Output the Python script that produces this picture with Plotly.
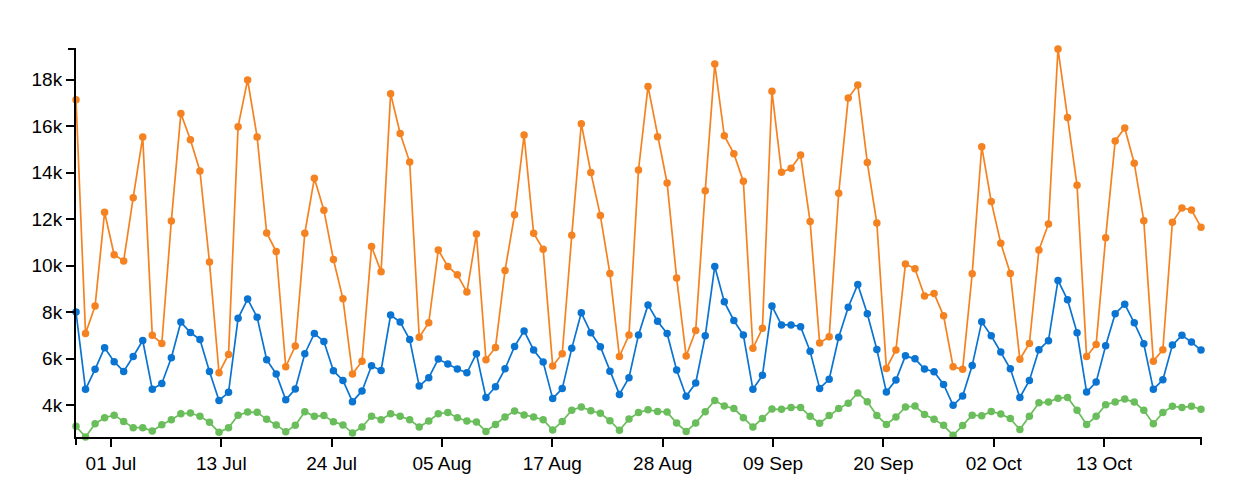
import pandas as pd
import plotly.graph_objects as go

# daily values, in thousands, 28 Jun - 24 Oct
start_date = "2019-06-28"

orange_k = [17.14, 7.09, 8.27, 12.30, 10.48, 10.21, 12.93, 15.54, 7.01, 6.66,
            11.93, 16.55, 15.42, 14.08, 10.16, 5.40, 6.19, 15.98, 17.99, 15.54,
            11.41, 10.61, 5.66, 6.55, 11.40, 13.76, 12.39, 10.27, 8.58, 5.35,
            5.90, 10.83, 9.74, 17.40, 15.69, 14.46, 6.93, 7.55, 10.68, 9.97,
            9.61, 8.87, 11.37, 5.96, 6.49, 9.80, 12.19, 15.62, 11.40, 10.71,
            5.69, 6.22, 11.31, 16.11, 14.01, 12.16, 9.67, 6.10, 7.02, 14.12,
            17.71, 15.55, 13.56, 9.47, 6.12, 7.22, 13.23, 18.67, 15.59, 14.82,
            13.63, 6.45, 7.31, 17.50, 14.02, 14.19, 14.76, 11.90, 6.68, 6.95,
            13.12, 17.21, 17.77, 14.44, 11.84, 5.59, 6.38, 10.08, 9.87, 8.70,
            8.81, 7.85, 5.66, 5.55, 9.66, 15.12, 12.76, 10.97, 9.67, 5.98,
            6.66, 10.68, 11.80, 19.32, 16.37, 13.46, 6.10, 6.62, 11.21, 15.37,
            15.92, 14.41, 11.94, 5.90, 6.39, 11.87, 12.49, 12.40, 11.66]

blue_k = [8.01, 4.69, 5.55, 6.48, 5.88, 5.46, 6.10, 6.79, 4.69, 4.94,
          6.05, 7.58, 7.13, 6.83, 5.46, 4.21, 4.56, 7.74, 8.57, 7.79,
          5.96, 5.35, 4.24, 4.70, 6.22, 7.09, 6.75, 5.49, 5.07, 4.16,
          4.62, 5.70, 5.50, 7.88, 7.58, 6.83, 4.83, 5.19, 5.99, 5.78,
          5.56, 5.40, 6.22, 4.34, 4.80, 5.57, 6.53, 7.20, 6.38, 5.86,
          4.29, 4.72, 6.45, 7.98, 7.12, 6.52, 5.47, 4.47, 5.19, 7.03,
          8.32, 7.62, 7.09, 5.52, 4.39, 4.96, 6.99, 9.97, 8.45, 7.65,
          7.02, 4.69, 5.29, 8.27, 7.46, 7.46, 7.38, 6.33, 4.73, 5.12,
          6.93, 8.22, 9.20, 7.94, 6.40, 4.57, 5.09, 6.13, 6.00, 5.56,
          5.45, 4.90, 4.00, 4.40, 5.71, 7.59, 6.99, 6.29, 5.57, 4.34,
          5.07, 6.39, 6.78, 9.37, 8.54, 7.12, 4.57, 5.00, 6.56, 7.94,
          8.35, 7.55, 6.65, 4.69, 5.10, 6.59, 7.01, 6.72, 6.38]

green_k = [3.10, 2.64, 3.21, 3.47, 3.58, 3.31, 3.04, 3.04, 2.90, 3.17,
           3.38, 3.64, 3.67, 3.53, 3.27, 2.84, 3.04, 3.58, 3.71, 3.70,
           3.40, 3.16, 2.87, 3.14, 3.73, 3.53, 3.56, 3.30, 3.16, 2.81,
           3.07, 3.53, 3.38, 3.64, 3.53, 3.38, 3.07, 3.33, 3.64, 3.69,
           3.47, 3.33, 3.28, 2.88, 3.18, 3.50, 3.76, 3.59, 3.50, 3.38,
           2.94, 3.31, 3.79, 3.93, 3.77, 3.66, 3.34, 2.93, 3.41, 3.69,
           3.81, 3.74, 3.71, 3.24, 2.88, 3.24, 3.73, 4.21, 3.97, 3.86,
           3.47, 3.07, 3.44, 3.84, 3.83, 3.91, 3.91, 3.53, 3.23, 3.56,
           3.86, 4.09, 4.53, 4.16, 3.56, 3.18, 3.50, 3.93, 3.97, 3.61,
           3.40, 3.14, 2.71, 3.13, 3.58, 3.55, 3.74, 3.63, 3.43, 2.96,
           3.53, 4.11, 4.14, 4.31, 4.34, 3.79, 3.18, 3.53, 4.03, 4.14,
           4.27, 4.14, 3.79, 3.21, 3.69, 3.96, 3.91, 3.96, 3.83]

tick_labels = ["01 Jul", "13 Jul", "24 Jul", "05 Aug", "17 Aug",
               "28 Aug", "09 Sep", "20 Sep", "02 Oct", "13 Oct"]

dates = pd.date_range(start_date, periods=len(orange_k), freq="D")
orange = [v * 1000 for v in orange_k]
blue = [v * 1000 for v in blue_k]
green = [v * 1000 for v in green_k]

# ticks every 1e9 ms, like a linear scale on timestamps
first_tick = pd.Timestamp("2019-07-01 16:00")
tickvals = [first_tick + pd.Timedelta(milliseconds=1e9 * k) for k in range(len(tick_labels))]

fig = go.Figure()
for vals, col in ((orange, "#f58220"), (blue, "#0a74d2"), (green, "#6abd5b")):
    fig.add_trace(go.Scatter(x=dates, y=vals, mode="lines+markers",
                             line=dict(color=col, width=1.7),
                             marker=dict(color=col, size=7.5),
                             cliponaxis=False, hoverinfo="x+y"))

all_vals = orange + blue + green
ymin, ymax = min(all_vals), max(all_vals)

# page body has an 8px margin, so the figure is a bit smaller than the window
W, H = 1223, 479
ml, mr, mt, mb = 68, 30, 41, 50

fig.update_layout(
    width=W, height=H,
    margin=dict(l=ml, r=mr, t=mt, b=mb),
    plot_bgcolor="white", paper_bgcolor="white",
    showlegend=False,
    font=dict(family="Liberation Sans, Arial, sans-serif", size=19, color="black"),
    xaxis=dict(type="date", range=[dates[0], dates[-1]],
               tickmode="array", tickvals=tickvals, ticktext=tick_labels,
               showgrid=False, zeroline=False, showline=True,
               linecolor="black", linewidth=2,
               ticks="outside", ticklen=8, tickwidth=1.5, tickcolor="black"),
    yaxis=dict(range=[ymin, ymax], tick0=0, dtick=2000, tickformat="~s",
               showgrid=False, zeroline=False, showline=True,
               linecolor="black", linewidth=2,
               ticks="outside", ticklen=8, tickwidth=1.5, tickcolor="black"),
)

# outer ticks at axis ends
pw, ph = W - ml - mr, H - mt - mb
for x0 in (0, 1):
    fig.add_shape(type="line", xref="paper", yref="paper",
                  x0=x0, x1=x0, y0=0, y1=-8 / ph,
                  line=dict(color="black", width=2))
fig.add_shape(type="line", xref="paper", yref="paper",
              x0=0, x1=-8 / pw, y0=1, y1=1,
              line=dict(color="black", width=2))

fig.write_html("out.html")
